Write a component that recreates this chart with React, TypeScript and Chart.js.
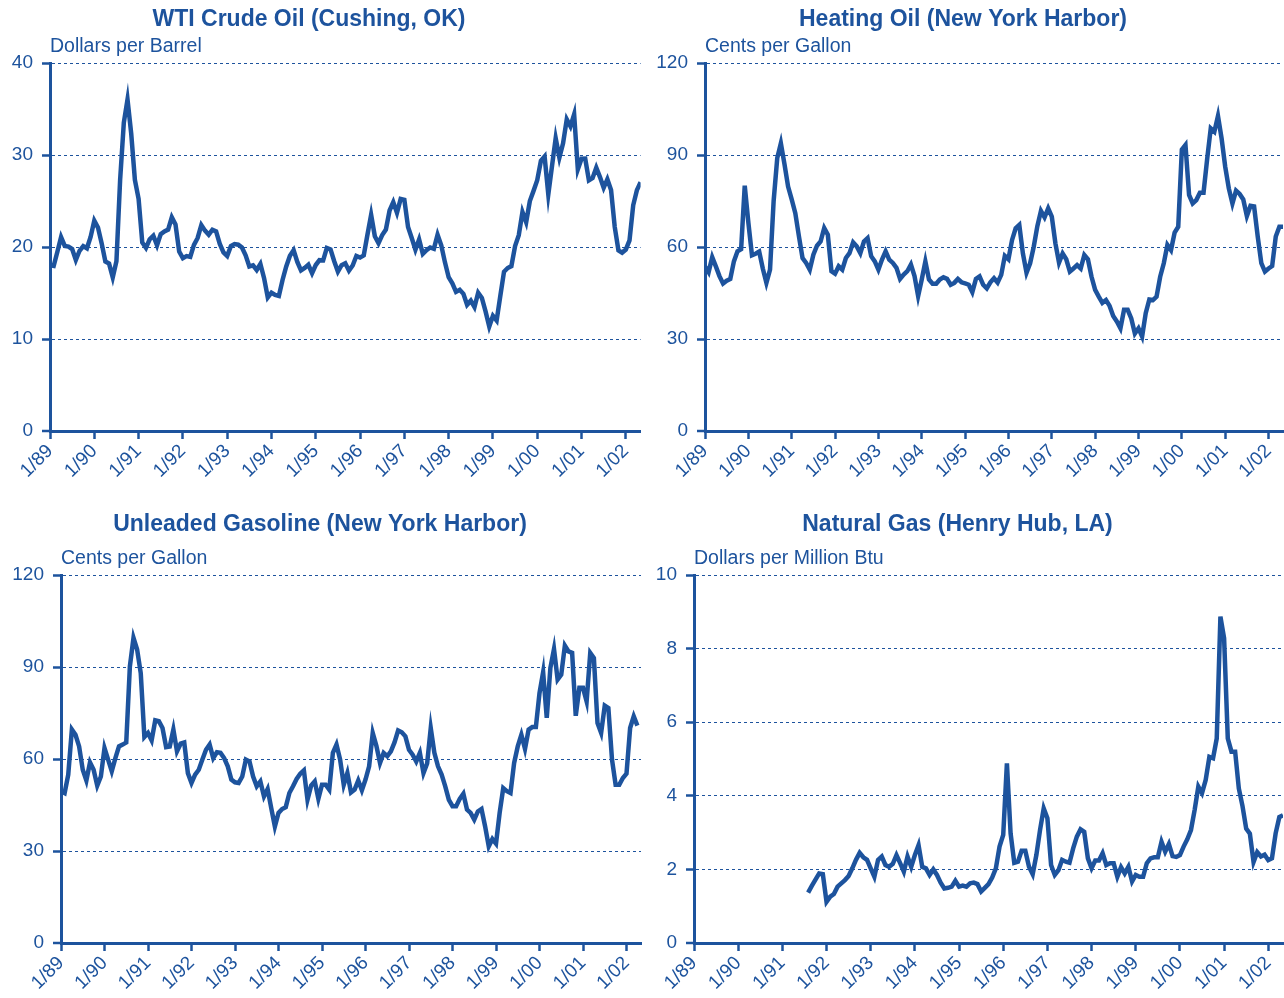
import React, { useEffect, useRef } from 'react';
import { Chart, registerables } from 'chart.js';

Chart.register(...registerables);

// ---------- data (monthly, index 0 = 1/89) ----------
const tickLabels = ['1/89', '1/90', '1/91', '1/92', '1/93', '1/94', '1/95', '1/96', '1/97', '1/98', '1/99', '1/00', '1/01', '1/02'];

const wti = [
  18.02, 17.94, 19.48, 21.07, 20.12, 20.05, 19.78, 18.58, 19.59, 20.10, 19.86, 21.10,
  22.86, 22.11, 20.39, 18.43, 18.20, 16.70, 18.45, 27.31, 33.51, 36.04, 32.33, 27.28,
  25.23, 20.48, 19.90, 20.83, 21.23, 20.19, 21.40, 21.69, 21.89, 23.23, 22.46, 19.50,
  18.79, 19.01, 18.92, 20.23, 20.98, 22.39, 21.78, 21.34, 21.88, 21.69, 20.34, 19.41,
  19.03, 20.09, 20.32, 20.25, 19.95, 19.09, 17.89, 18.01, 17.50, 18.15, 16.61, 14.52,
  15.03, 14.78, 14.68, 16.42, 17.89, 19.06, 19.66, 18.38, 17.45, 17.72, 18.07, 17.16,
  18.04, 18.57, 18.54, 19.90, 19.74, 18.45, 17.33, 18.02, 18.23, 17.43, 17.99, 19.03,
  18.85, 19.09, 21.33, 23.50, 21.17, 20.42, 21.30, 21.90, 23.97, 24.88, 23.71, 25.23,
  25.13, 22.18, 20.97, 19.70, 20.82, 19.26, 19.66, 19.95, 19.80, 21.33, 20.19, 18.33,
  16.72, 16.06, 15.12, 15.35, 14.91, 13.72, 14.17, 13.47, 15.03, 14.46, 13.00, 11.35,
  12.52, 12.01, 14.68, 17.31, 17.72, 17.92, 20.10, 21.28, 23.80, 22.69, 25.00, 26.10,
  27.26, 29.37, 29.84, 25.72, 28.79, 31.82, 29.70, 31.26, 33.88, 33.11, 34.42, 28.44,
  29.59, 29.61, 27.25, 27.49, 28.63, 27.60, 26.43, 27.37, 26.20, 22.17, 19.64, 19.39,
  19.72, 20.72, 24.53, 26.18, 27.04,
];

const heatingOil = [
  53.7, 51.8, 56.7, 53.7, 50.5, 48.1, 49.0, 49.6, 55.3, 58.6, 59.3, 80.0,
  68.0, 57.3, 57.8, 58.5, 53.0, 48.3, 52.6, 75.0, 89.0, 93.8, 87.0, 79.7,
  75.5, 71.0, 63.5, 56.4, 54.8, 52.6, 57.5, 60.4, 61.8, 66.2, 64.0, 52.1,
  51.3, 53.7, 52.6, 56.4, 58.0, 61.5, 60.2, 58.0, 61.8, 62.9, 57.0, 55.3,
  52.6, 55.9, 58.6, 55.9, 54.8, 53.2, 49.6, 51.0, 52.1, 54.3, 50.5, 44.0,
  49.4, 55.3, 49.4, 48.0, 48.0, 49.4, 50.1, 49.6, 47.7, 48.3, 49.6, 48.5,
  48.1, 47.7, 45.3, 49.6, 50.4, 47.7, 46.5, 48.5, 49.8, 48.4, 50.9, 57.1,
  56.0, 62.3, 66.1, 67.2, 57.9, 51.6, 54.7, 60.1, 66.8, 71.8, 69.7, 72.6,
  69.9, 61.2, 54.9, 57.9, 56.0, 52.0, 53.0, 54.1, 53.0, 57.4, 56.0, 50.3,
  46.0, 43.8, 41.8, 42.7, 40.8, 37.5, 35.7, 33.5, 39.5, 39.5, 36.7, 31.8,
  33.5, 30.8, 38.4, 42.9, 42.7, 43.8, 50.3, 54.7, 60.7, 59.0, 64.7, 66.6,
  91.8, 93.3, 77.0, 74.2, 75.3, 77.7, 77.7, 88.6, 98.7, 97.6, 102.7, 95.4,
  86.2, 79.1, 74.2, 78.4, 77.3, 75.5, 70.1, 73.4, 73.2, 63.4, 54.7, 52.0,
  53.0, 53.8, 63.4, 66.6, 66.6,
];

const gasoline = [
  49.5, 48.9, 54.9, 69.6, 67.9, 64.1, 56.5, 53.0, 58.9, 56.5, 51.3, 54.3,
  63.6, 59.8, 56.0, 60.3, 64.1, 64.7, 65.4, 90.2, 99.5, 95.7, 88.0, 67.2,
  68.5, 66.1, 72.6, 72.3, 70.1, 63.9, 64.1, 69.6, 62.5, 65.0, 65.4, 55.4,
  52.2, 54.9, 56.5, 59.8, 63.0, 64.7, 60.3, 62.2, 62.0, 60.3, 57.6, 53.3,
  52.4, 52.2, 54.3, 59.8, 59.2, 54.3, 51.1, 52.7, 47.8, 50.2, 44.0, 38.0,
  42.4, 43.7, 44.3, 48.9, 51.1, 53.5, 55.2, 56.3, 46.7, 51.3, 52.7, 47.0,
  51.6, 51.6, 50.0, 62.0, 64.7, 59.8, 51.6, 55.4, 49.1, 50.0, 53.0, 49.8,
  53.3, 57.6, 68.5, 64.3, 58.7, 62.0, 60.9, 62.5, 65.4, 69.3, 68.7, 67.4,
  63.0, 61.4, 59.2, 62.0, 55.4, 58.5, 70.1, 62.0, 57.6, 54.9, 51.1, 46.7,
  44.6, 44.6, 47.0, 48.7, 43.5, 42.4, 40.2, 42.9, 43.7, 38.0, 31.5, 33.9,
  32.4, 42.4, 50.5, 49.5, 48.9, 58.7, 64.1, 67.9, 63.3, 69.6, 70.4, 70.4,
  81.5, 88.3, 73.4, 89.7, 95.9, 85.9, 87.5, 97.0, 95.1, 94.6, 74.1, 83.2,
  83.2, 78.8, 94.6, 92.9, 71.7, 68.5, 77.4, 76.6, 59.8, 51.6, 51.6, 53.8,
  55.2, 70.1, 73.9, 70.9,
];

// Henry Hub series begins 8/91 (month index 31)
const naturalGasStart = 31;
const naturalGas = [
  1.37, 1.55, 1.72, 1.89, 1.87,
  1.12, 1.26, 1.33, 1.53, 1.62, 1.71, 1.82, 2.03, 2.26, 2.45, 2.33, 2.26,
  2.03, 1.80, 2.26, 2.35, 2.12, 2.07, 2.15, 2.39, 2.17, 1.94, 2.35, 2.07,
  2.39, 2.66, 2.07, 2.03, 1.85, 2.00, 1.85, 1.64, 1.48, 1.50, 1.53, 1.69,
  1.53, 1.56, 1.53, 1.62, 1.64, 1.60, 1.40, 1.50, 1.60, 1.78, 2.03, 2.62,
  2.94, 4.88, 2.98, 2.18, 2.21, 2.51, 2.51, 2.07, 1.87, 2.39, 3.07, 3.66,
  3.39, 2.12, 1.85, 1.98, 2.26, 2.21, 2.18, 2.57, 2.89, 3.09, 3.02, 2.30,
  2.03, 2.24, 2.24, 2.44, 2.12, 2.17, 2.17, 1.80, 2.06, 1.89, 2.07, 1.67,
  1.85, 1.80, 1.80, 2.17, 2.30, 2.33, 2.33, 2.75, 2.48, 2.69, 2.36, 2.34,
  2.39, 2.62, 2.82, 3.07, 3.62, 4.25, 4.07, 4.43, 5.06, 5.02, 5.56, 8.87,
  8.28, 5.56, 5.20, 5.20, 4.20, 3.72, 3.11, 2.97, 2.20, 2.47, 2.35, 2.40,
  2.25, 2.30, 2.98, 3.42, 3.47,
];

const xMaxMonth = 160;

// ---------- styling ----------
const BLUE = '#1d539d';
const FONT = "'Liberation Sans', Arial, Helvetica, sans-serif";
const TITLE_SIZE = 23;
const UNIT_SIZE = 19.5;
const TICK_SIZE = 19;

type PanelSpec = {
  title: string;
  unit: string;
  values: number[];
  start: number;
  yMax: number;
  yStep: number;
  titleCenterX: number;
  titleCenterY: number;
  unitCenterY: number;
  areaLeft: number;
  areaRight: number;
  areaTop: number;
  areaBottom: number;
  canvasTop: number;
  canvasBottom: number;
};

const panels: PanelSpec[] = [
  {
    title: 'WTI Crude Oil (Cushing, OK)', unit: 'Dollars per Barrel', values: wti, start: 0, yMax: 40, yStep: 10,
    titleCenterX: 310, titleCenterY: 20, unitCenterY: 47, areaLeft: 50, areaRight: 641, areaTop: 63, areaBottom: 431,
    canvasTop: 0, canvasBottom: 495,
  },
  {
    title: 'Heating Oil (New York Harbor)', unit: 'Cents per Gallon', values: heatingOil, start: 0, yMax: 120, yStep: 30,
    titleCenterX: 968, titleCenterY: 20, unitCenterY: 47, areaLeft: 705, areaRight: 1283, areaTop: 63, areaBottom: 431,
    canvasTop: 0, canvasBottom: 495,
  },
  {
    title: 'Unleaded Gasoline (New York Harbor)', unit: 'Cents per Gallon', values: gasoline, start: 0, yMax: 120, yStep: 30,
    titleCenterX: 325, titleCenterY: 525, unitCenterY: 559, areaLeft: 61, areaRight: 641, areaTop: 575, areaBottom: 943,
    canvasTop: 505, canvasBottom: 998,
  },
  {
    title: 'Natural Gas (Henry Hub, LA)', unit: 'Dollars per Million Btu', values: naturalGas, start: naturalGasStart, yMax: 10, yStep: 2,
    titleCenterX: 970, titleCenterY: 525, unitCenterY: 559, areaLeft: 694, areaRight: 1283, areaTop: 575, areaBottom: 943,
    canvasTop: 505, canvasBottom: 998,
  },
];

const X_AXIS_H = 50;

function geometry(p: PanelSpec) {
  const half = Math.max(p.titleCenterX - (p.areaLeft - 62), p.areaRight + 2 - p.titleCenterX);
  const left = p.titleCenterX - half;
  const width = half * 2;
  const height = p.canvasBottom - p.canvasTop;
  const tl = TITLE_SIZE * 1.2;
  const ul = UNIT_SIZE * 1.2;
  const tTop = p.titleCenterY - p.canvasTop - tl / 2;
  const uTop = p.unitCenterY - (p.canvasTop + tTop + tl) - ul / 2;
  const uBottom = p.areaTop - (p.unitCenterY + ul / 2);
  return {
    left, width, height,
    yAxisW: p.areaLeft - left,
    padRight: left + width - p.areaRight,
    padBottom: p.canvasBottom - p.areaBottom - X_AXIS_H,
    tTop, uTop, uBottom,
  };
}

function Panel({ spec }: { spec: PanelSpec }) {
  const ref = useRef<HTMLCanvasElement | null>(null);
  const g = geometry(spec);

  useEffect(() => {
    if (!ref.current) return;
    const points = spec.values.map((v, i) => ({ x: spec.start + i, y: v }));
    const chart = new Chart(ref.current, {
      type: 'line',
      data: {
        datasets: [
          {
            data: points,
            borderColor: BLUE,
            backgroundColor: BLUE,
            borderWidth: 4.5,
            pointRadius: 0,
            tension: 0,
            fill: false,
            borderJoinStyle: 'miter',
          },
        ],
      },
      options: {
        responsive: false,
        maintainAspectRatio: false,
        animation: false,
        devicePixelRatio: 1,
        layout: { padding: { left: 0, right: g.padRight, top: 0, bottom: g.padBottom } },
        plugins: {
          legend: { display: false },
          tooltip: { enabled: false },
          title: {
            display: true,
            text: spec.title,
            color: BLUE,
            font: { family: FONT, size: TITLE_SIZE, weight: 'bold', lineHeight: 1.2 },
            padding: { top: g.tTop, bottom: 0 },
            align: 'center',
            fullSize: true,
          },
          subtitle: {
            display: true,
            text: spec.unit,
            color: BLUE,
            font: { family: FONT, size: UNIT_SIZE, weight: 'normal', lineHeight: 1.2 },
            padding: { top: g.uTop, bottom: g.uBottom },
            align: 'start',
            fullSize: false,
          },
        },
        scales: {
          x: {
            type: 'linear',
            min: 0,
            max: xMaxMonth,
            afterFit: (s: any) => { s.height = X_AXIS_H; },
            ticks: {
              stepSize: 12,
              autoSkip: false,
              includeBounds: false,
              maxRotation: 45,
              minRotation: 45,
              padding: 1,
              color: BLUE,
              font: { family: FONT, size: TICK_SIZE },
              callback: (v: any) => tickLabels[Math.round(Number(v) / 12)] ?? '',
            },
            grid: {
              drawOnChartArea: false,
              drawTicks: true,
              tickLength: 8,
              tickWidth: 2.5,
              tickColor: BLUE,
            },
            border: { display: true, color: BLUE, width: 3 },
          },
          y: {
            type: 'linear',
            min: 0,
            max: spec.yMax,
            afterFit: (s: any) => { s.width = g.yAxisW; },
            ticks: {
              stepSize: spec.yStep,
              padding: 9,
              color: BLUE,
              font: { family: FONT, size: TICK_SIZE },
            },
            grid: {
              color: BLUE,
              lineWidth: (ctx: any) => (ctx.tick && ctx.tick.value === 0 ? 0 : 1),
              drawTicks: true,
              tickLength: 8,
              tickWidth: 2.5,
              tickColor: BLUE,
              tickBorderDash: [],
            },
            border: { display: true, color: BLUE, width: 3, dash: [3, 3] },
          },
        },
      },
    } as any);
    return () => chart.destroy();
  }, [spec]);

  return (
    <canvas
      ref={ref}
      width={g.width}
      height={g.height}
      style={{ position: 'absolute', left: g.left, top: spec.canvasTop, width: g.width, height: g.height }}
    />
  );
}

export default function App() {
  return (
    <div
      style={{
        position: 'absolute',
        left: 0,
        top: 0,
        width: 1284,
        height: 998,
        overflow: 'hidden',
        background: '#ffffff',
      }}
    >
      {panels.map((p) => (
        <Panel key={p.title} spec={p} />
      ))}
    </div>
  );
}
